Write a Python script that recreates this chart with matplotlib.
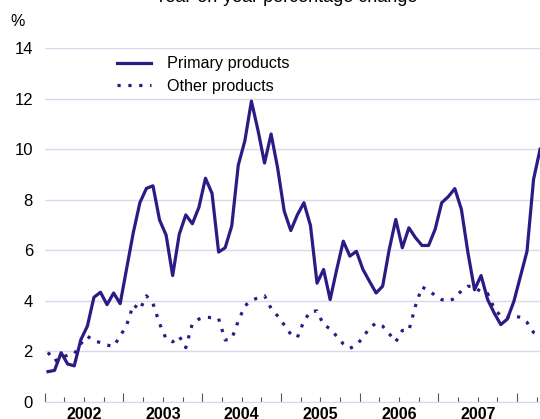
import matplotlib.pyplot as plt
import numpy as np

plt.rcParams["font.family"] = ["Liberation Sans", "DejaVu Sans"]

# monthly, Jan 2002 - Apr 2008
primary = [1.2, 1.25, 1.95, 1.5, 1.43, 2.46, 3.0, 4.14, 4.34, 3.85, 4.31, 3.89,
           5.3, 6.7, 7.88, 8.45, 8.55, 7.2, 6.6, 5.0, 6.63, 7.4, 7.05, 7.7,
           8.85, 8.25, 5.93, 6.1, 6.96, 9.37, 10.33, 11.9, 10.75, 9.45, 10.6, 9.25,
           7.55, 6.78, 7.4, 7.88, 6.98, 4.7, 5.24, 4.05, 5.24, 6.36, 5.77, 5.96,
           5.24, 4.77, 4.31, 4.58, 6.03, 7.22, 6.1, 6.89, 6.5, 6.19, 6.19, 6.83,
           7.88, 8.12, 8.44, 7.62, 5.9, 4.44, 5.0, 4.05, 3.52, 3.06, 3.28, 3.98,
           4.97, 5.96, 8.81, 10.0]
other = [1.96, 1.62, 1.75, 1.85, 1.9, 2.3, 2.6, 2.42, 2.35, 2.25, 2.2, 2.6,
         3.05, 3.85, 3.65, 4.2, 3.9, 3.1, 2.5, 2.38, 2.6, 2.15, 3.1, 3.28,
         3.36, 3.33, 3.3, 2.45, 2.5, 3.2, 3.8, 4.02, 4.12, 4.2, 3.7, 3.4,
         3.05, 2.68, 2.55, 3.2, 3.58, 3.6, 3.05, 2.9, 2.6, 2.3, 2.12, 2.25,
         2.55, 2.93, 3.12, 3.0, 2.7, 2.38, 2.83, 2.83, 3.8, 4.55, 4.4, 4.22,
         4.05, 3.98, 4.1, 4.4, 4.58, 4.55, 4.35, 4.29, 3.7, 3.4, 3.35, 3.4,
         3.35, 3.15, 2.75, 2.6]
years = [2002, 2003, 2004, 2005, 2006, 2007]

t = 2002 + (np.arange(len(primary)) + 0.5) / 12

col = "#2c1b85"
grid_col = "#d9d9ee"

fig = plt.figure(figsize=(5.4, 4.19), dpi=100)
ax = fig.add_axes([0.0828, 0.0406, 0.9172, 0.8448])

ax.plot(t, primary, color=col, lw=2.3, label="Primary products", zorder=3)
ax.plot(t, other, color=col, lw=2.3, linestyle=(0, (1, 2.4)), dash_capstyle="butt",
        label="Other products", zorder=3)

ax.set_xlim(2002, 2008.29)
ax.set_ylim(0, 14)
ax.set_yticks(range(0, 15, 2))
ax.grid(axis="y", color=grid_col, lw=1)
ax.set_axisbelow(True)
for s in ["top", "right", "left"]:
    ax.spines[s].set_visible(False)
ax.spines["bottom"].set_color(grid_col)

ax.set_xticks(range(2002, 2009))
ax.set_xticks(np.arange(2002, 2008.3, 0.25), minor=True)
ax.tick_params(axis="x", which="major", direction="in", length=6.5, width=0.8,
               color="#555555", labelbottom=False)
ax.tick_params(axis="x", which="minor", direction="in", length=3.5, width=0.8,
               color="#555555")
ax.tick_params(axis="y", length=0, pad=8.5, labelsize=12)

for y in years:
    ax.annotate(str(y), xy=(y + 0.5, 0), xycoords=("data", "axes fraction"),
                xytext=(0, -3.5), textcoords="offset points", ha="center", va="top",
                fontsize=11.5, fontweight="bold")

fig.text(18 / 540, 1 - 22 / 419, "%", ha="center", va="center", fontsize=11.5)
fig.text(286 / 540, 1 - 2 / 419, "Year-on-year percentage change", ha="center",
         va="baseline", fontsize=13)

ax.legend(loc="upper left", bbox_to_anchor=(0.146, 0.977), frameon=False,
          fontsize=11.6, handlelength=2.1, handletextpad=1.0, labelspacing=0.46,
          borderpad=0, borderaxespad=0)

fig.savefig("out.png", dpi=100)
